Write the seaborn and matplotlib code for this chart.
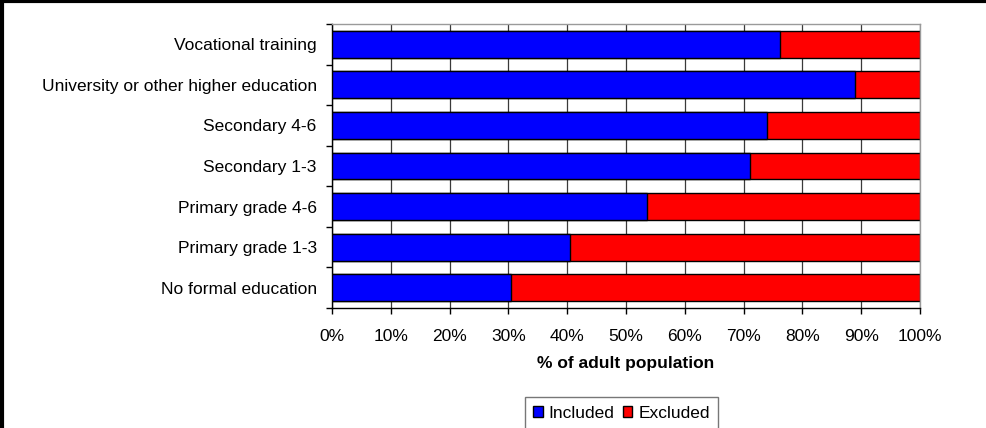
import matplotlib
matplotlib.use("Agg")
import matplotlib.pyplot as plt
from matplotlib.lines import Line2D
from matplotlib.patches import Patch
import seaborn as sns
import pandas as pd

categories = [
    "Vocational training",
    "University or other higher education",
    "Secondary 4-6",
    "Secondary 1-3",
    "Primary grade 4-6",
    "Primary grade 1-3",
    "No formal education",
]
included = [76.2, 89.0, 73.9, 71.1, 53.5, 40.5, 30.4]
excluded = [23.8, 11.0, 26.1, 28.9, 46.5, 59.5, 69.6]
x_ticks = [0, 10, 20, 30, 40, 50, 60, 70, 80, 90, 100]
x_tick_labels = [f"{v}%" for v in x_ticks]

FS = 12.5

sns.set_theme(style="white")
plt.rcParams["font.family"] = ["Liberation Sans", "DejaVu Sans"]

df = pd.DataFrame({
    "category": categories,
    "included": included,
    "excluded": excluded,
})
df["total"] = df["included"] + df["excluded"]

fig = plt.figure(figsize=(9.87, 4.28), dpi=100)
ax = fig.add_axes([0.3364, 0.2804, 0.9321 - 0.3364, 0.9439 - 0.2804])

# vertical gridlines behind the bars
for v in x_ticks:
    ax.axvline(v, color="#3a3a3a", lw=0.9, zorder=0)

# stacked bars: full length in red, included share in blue on top
sns.barplot(data=df, x="total", y="category", order=categories, color="#ff0000",
            saturation=1, width=0.665, edgecolor="black", linewidth=1.0, ax=ax, zorder=2)
sns.barplot(data=df, x="included", y="category", order=categories, color="#0000ff",
            saturation=1, width=0.665, edgecolor="black", linewidth=1.0, ax=ax, zorder=3)

ax.set_xlim(0, 100)
ax.set_ylim(len(categories) - 0.5, -0.5)
ax.set_xticks(x_ticks)
ax.set_xticklabels(x_tick_labels, fontsize=FS, color="black")
ax.set_yticks(range(len(categories)))
ax.set_yticklabels(categories, fontsize=FS, color="black")
ax.set_yticks([i - 0.5 for i in range(len(categories) + 1)], minor=True)
ax.tick_params(axis="y", which="major", length=0, pad=11)
ax.tick_params(axis="y", which="minor", left=True, length=4, width=1, color="black", direction="out")
ax.tick_params(axis="x", which="major", bottom=True, length=4, width=1, color="black",
               direction="out", pad=11)
ax.set_xlabel("% of adult population", fontsize=FS, fontweight="bold", color="black", labelpad=8.5)
ax.set_ylabel("")

for side in ("left", "bottom"):
    ax.spines[side].set_color("black")
    ax.spines[side].set_linewidth(1.0)
for side in ("top", "right"):
    ax.spines[side].set_color("#9a9a9a")
    ax.spines[side].set_linewidth(1.0)

handles = [
    Patch(facecolor="#0000ff", edgecolor="black", label="Included"),
    Patch(facecolor="#ff0000", edgecolor="black", label="Excluded"),
]
leg = fig.legend(handles=handles, loc="upper center", bbox_to_anchor=(0.6296, 1 - 397 / 428),
                 ncol=2, frameon=True, fancybox=False, fontsize=FS,
                 handlelength=0.55, handleheight=0.55, handletextpad=0.35, columnspacing=0.45,
                 borderpad=0.5, borderaxespad=0)
leg.get_frame().set_edgecolor("#555555")
leg.get_frame().set_linewidth(1.0)
for t in leg.get_texts():
    t.set_color("black")

# figure frame along the top and left edges
fig.add_artist(Line2D([0, 1], [0.997, 0.997], transform=fig.transFigure, color="black", lw=3))
fig.add_artist(Line2D([0.0025, 0.0025], [0, 1], transform=fig.transFigure, color="black", lw=3))

fig.savefig("out.png", dpi=100, facecolor="white")
